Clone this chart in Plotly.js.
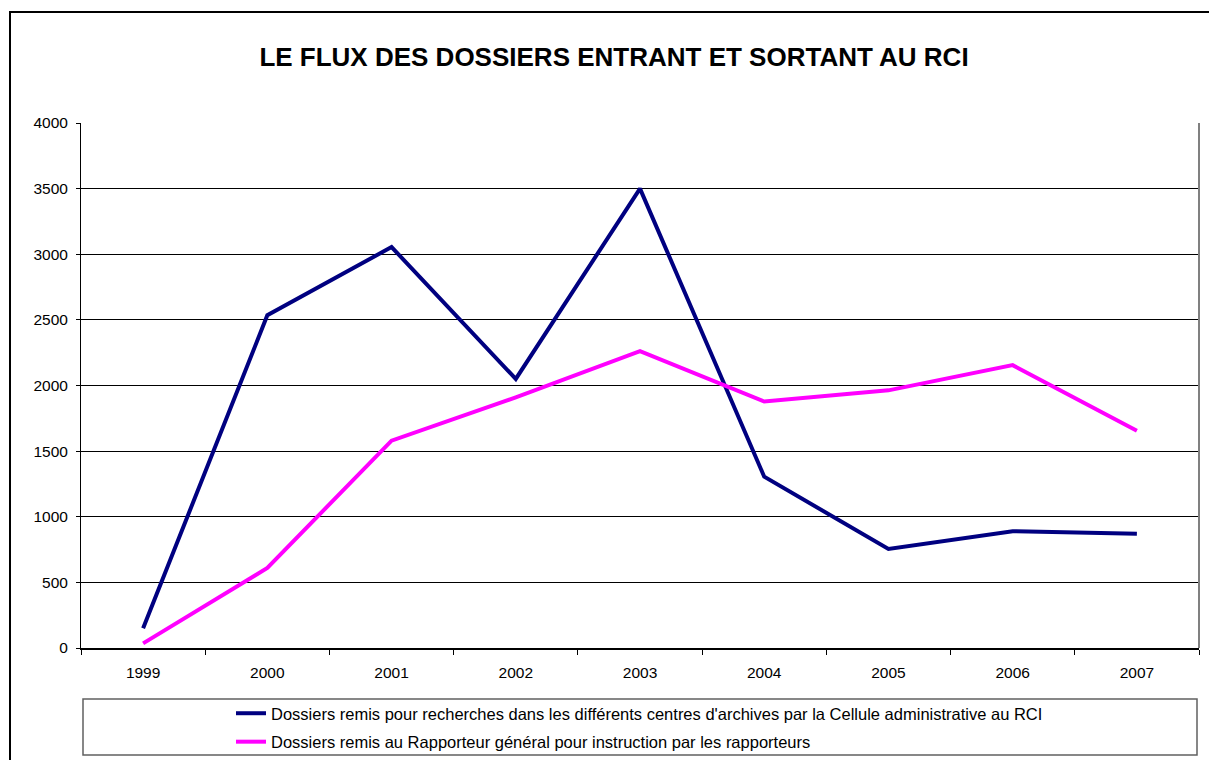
<!DOCTYPE html>
<html>
<head>
<meta charset="utf-8">
<script src="https://cdn.plot.ly/plotly-3.0.1.min.js"></script>
<style>
html,body{margin:0;padding:0;background:#fff;overflow:hidden;}
#chart{width:1209px;height:760px;}
</style>
</head>
<body>
<div id="chart"></div>
<script>
const years = ["1999","2000","2001","2002","2003","2004","2005","2006","2007"];
const dossiersRecherches = [150, 2535, 3055, 2050, 3500, 1305, 755, 890, 870];
const dossiersRapporteur = [35, 610, 1580, 1910, 2262, 1878, 1963, 2155, 1655];
const seriesNames = [
  "Dossiers remis pour recherches dans les différents centres d'archives par la Cellule administrative au RCI",
  "Dossiers remis au Rapporteur général pour instruction par les rapporteurs"
];
const chartTitle = "LE FLUX DES DOSSIERS ENTRANT ET SORTANT AU RCI";

const W = 1209, H = 760;
const L = 81, R = 1199, T = 123, B = 648;
const pw = R - L, ph = B - T;
const px = x => (x - L) / pw;
const py = y => (B - y) / ph;

const traces = [
  {x: years, y: dossiersRecherches, name: seriesNames[0], type: 'scatter', mode: 'lines',
   line: {color: '#000080', width: 4}, legendgroup: 'a'},
  {x: years, y: dossiersRapporteur, name: seriesNames[1], type: 'scatter', mode: 'lines',
   line: {color: '#FF00FF', width: 4}, legendgroup: 'b'}
];

const layout = {
  width: W, height: H,
  margin: {l: L, r: W - R, t: T, b: H - B, pad: 0, autoexpand: false},
  paper_bgcolor: '#fff', plot_bgcolor: '#fff',
  font: {family: 'Liberation Sans, Arial, sans-serif', color: '#000', size: 15},
  title: {text: chartTitle, font: {size: 26, family: 'Liberation Sans, Arial, sans-serif', color: '#000', weight: 'bold'},
          x: 614 / W, xref: 'container', xanchor: 'center', y: 1 - 57 / H, yref: 'container', yanchor: 'middle'},
  xaxis: {type: 'category', range: [-0.5, 8.5], tickson: 'boundaries', ticks: 'outside', ticklen: 5,
          tickcolor: '#000', tickwidth: 1, showline: true, linecolor: '#000', linewidth: 2,
          showgrid: false, zeroline: false, tickfont: {size: 15.5}, ticklabelstandoff: 9, fixedrange: true},
  yaxis: {range: [0, 4000], dtick: 500, tick0: 0, ticks: 'outside', ticklen: 4, tickcolor: '#000',
          showline: true, linecolor: '#000', linewidth: 1, showgrid: true, gridcolor: '#000', gridwidth: 1,
          zeroline: false, tickfont: {size: 15.5}, ticklabelstandoff: 5, fixedrange: true},
  showlegend: true,
  legend: {x: px(231), xanchor: 'left', y: py(696), yanchor: 'top', bgcolor: 'rgba(0,0,0,0)',
           borderwidth: 0, traceorder: 'grouped', tracegroupgap: 4, font: {size: 16.5},
           itemwidth: 30},
  shapes: [
    {type: 'rect', xref: 'paper', yref: 'paper', x0: px(10), x1: px(1260), y0: py(800), y1: py(12),
     line: {color: '#000', width: 2}, fillcolor: 'rgba(0,0,0,0)', layer: 'below'},
    {type: 'line', xref: 'paper', yref: 'paper', x0: 1, x1: 1, y0: 0, y1: 1,
     line: {color: '#808080', width: 2}},
    {type: 'rect', xref: 'paper', yref: 'paper', x0: px(83), x1: px(1197), y0: py(755), y1: py(699),
     line: {color: '#606060', width: 1.5}, fillcolor: 'rgba(0,0,0,0)'}
  ]
};

Plotly.newPlot('chart', traces, layout, {displayModeBar: false, staticPlot: true});
</script>
</body>
</html>
